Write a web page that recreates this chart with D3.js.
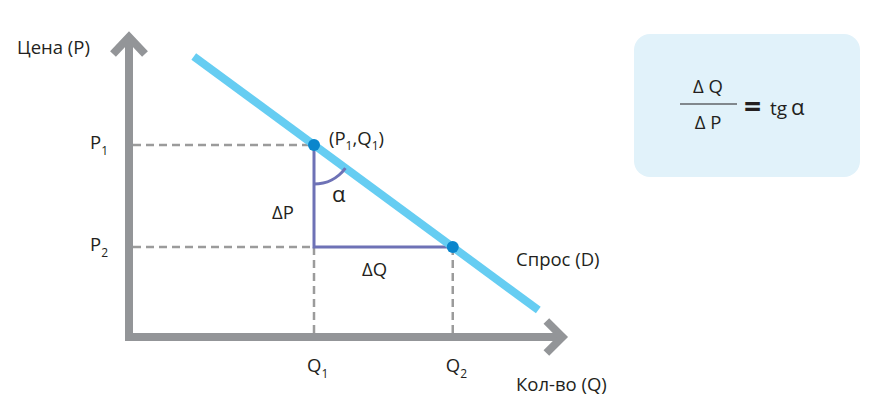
<!DOCTYPE html>
<html><head><meta charset="utf-8">
<script src="https://cdn.jsdelivr.net/npm/d3@7"></script>
<style>body{margin:0;background:#fff}svg{display:block}text{font-family:"Open Sans",sans-serif;fill:#231f20}</style>
</head><body><svg id="c" width="881" height="412"></svg>
<script>
// Data
const quantities = [4, 7];            // Q1, Q2
const prices = [6.4, 3];              // P1, P2
const qLabels = ["Q", "Q"], qSubs = ["1", "2"];
const pLabels = ["P", "P"], pSubs = ["1", "2"];
const demandQ = [1.4, 8.85];          // demand line ends (quantity)
const demandP = [9.35, 0.9];          // demand line ends (price)
const axisMax = {q: 9.37, p: 10.0};

const svg = d3.select("#c");
const x = d3.scaleLinear().domain([0, 10]).range([129, 129 + 462.5]);
const y = d3.scaleLinear().domain([0, 10]).range([337, 37]);
const gray = "#939598", blue = "#66cdf2", dot = "#0a86cc", tri = "#6e72b6";
const FS = 18.5;

// dashed guides
prices.forEach((p, i) => {
  svg.append("line").attr("x1", x(0) + 4).attr("x2", x(quantities[0])).attr("y1", y(p)).attr("y2", y(p))
    .attr("stroke", "#9b9b9b").attr("stroke-width", 2.5).attr("stroke-dasharray", "8,5");
});
quantities.forEach((q, i) => {
  svg.append("line").attr("x1", x(q)).attr("x2", x(q)).attr("y1", y(prices[1])).attr("y2", y(0) - 4)
    .attr("stroke", "#9b9b9b").attr("stroke-width", 2.5).attr("stroke-dasharray", "8,5");
});

// axes
svg.append("path").attr("d", `M${x(0)},${y(axisMax.p)}V${y(0)}H${x(axisMax.q)}`)
  .attr("fill", "none").attr("stroke", gray).attr("stroke-width", 8).attr("stroke-linecap", "butt").attr("stroke-linejoin", "miter");
svg.append("path").attr("d", `M${x(0)-16},${y(axisMax.p)+17}L${x(0)},${y(axisMax.p)}L${x(0)+16},${y(axisMax.p)+17}`)
  .attr("fill", "none").attr("stroke", gray).attr("stroke-width", 8).attr("stroke-linejoin", "miter");
svg.append("path").attr("d", `M${x(axisMax.q)-16},${y(0)-16}L${x(axisMax.q)},${y(0)}L${x(axisMax.q)-16},${y(0)+16}`)
  .attr("fill", "none").attr("stroke", gray).attr("stroke-width", 8).attr("stroke-linejoin", "miter");

// triangle
svg.append("path").attr("d", `M${x(quantities[0])},${y(prices[0])}V${y(prices[1])}H${x(quantities[1])}`)
  .attr("fill", "none").attr("stroke", tri).attr("stroke-width", 3);

// demand line
svg.append("line").attr("x1", x(demandQ[0])).attr("y1", y(demandP[0])).attr("x2", x(demandQ[1])).attr("y2", y(demandP[1]))
  .attr("stroke", blue).attr("stroke-width", 8);

// angle arc
const cx = x(quantities[0]), cy = y(prices[0]);
const ang = Math.atan2(y(demandP[1]) - y(demandP[0]), x(demandQ[1]) - x(demandQ[0]));
const r = 39;
svg.append("path").attr("d", `M${cx},${cy + r}A${r},${r} 0 0 0 ${cx + r * Math.cos(ang)},${cy + r * Math.sin(ang)}`)
  .attr("fill", "none").attr("stroke", tri).attr("stroke-width", 3);

// points
quantities.forEach((q, i) => {
  svg.append("circle").attr("cx", x(q)).attr("cy", y(prices[i])).attr("r", 6).attr("fill", dot);
});

// labels
function sub(xx, yy, main, s) {
  const tx = svg.append("text").attr("x", xx).attr("y", yy).attr("font-size", FS);
  tx.append("tspan").text(main);
  tx.append("tspan").attr("font-size", 12).attr("dy", 6).text(s);
  return tx;
}
prices.forEach((p, i) => sub(90, y(p) + 4, pLabels[i], pSubs[i]));
quantities.forEach((q, i) => sub(x(q) - 7, 372, qLabels[i], qSubs[i]));

svg.append("text").attr("x", 17).attr("y", 54).attr("font-size", FS).text("Цена (P)");
svg.append("text").attr("x", 516).attr("y", 391).attr("font-size", FS).text("Кол-во (Q)");
svg.append("text").attr("x", 516).attr("y", 266).attr("font-size", FS).text("Спрос (D)");
svg.append("text").attr("x", 272).attr("y", 219).attr("font-size", FS).text("ΔP");
svg.append("text").attr("x", 362).attr("y", 276).attr("font-size", FS).text("ΔQ");
svg.append("text").attr("x", 332).attr("y", 202).attr("font-size", 22).text("α");
const pq = svg.append("text").attr("x", 329).attr("y", 145).attr("font-size", FS);
pq.append("tspan").text("(P");
pq.append("tspan").attr("font-size", 12).attr("dy", 5).text("1");
pq.append("tspan").attr("dy", -5).text(",Q");
pq.append("tspan").attr("font-size", 12).attr("dy", 5).text("1");
pq.append("tspan").attr("dy", -5).text(")");

// formula box
svg.append("rect").attr("x", 634).attr("y", 34).attr("width", 226).attr("height", 143).attr("rx", 16).attr("fill", "#e1f2fa");
svg.append("text").attr("x", 708).attr("y", 93).attr("font-size", FS).attr("text-anchor", "middle").text("Δ Q");
svg.append("line").attr("x1", 680).attr("x2", 737).attr("y1", 104).attr("y2", 104).attr("stroke", "#231f20").attr("stroke-width", 1.2);
svg.append("text").attr("x", 708).attr("y", 129).attr("font-size", FS).attr("text-anchor", "middle").text("Δ P");
svg.append("text").attr("x", 744).attr("y", 117).attr("font-size", 30).attr("font-weight", "bold").text("=");
svg.append("text").attr("x", 770).attr("y", 115).attr("font-size", 19).text("tg");
svg.append("text").attr("x", 791).attr("y", 115).attr("font-size", 22).text("α");
</script></body></html>
